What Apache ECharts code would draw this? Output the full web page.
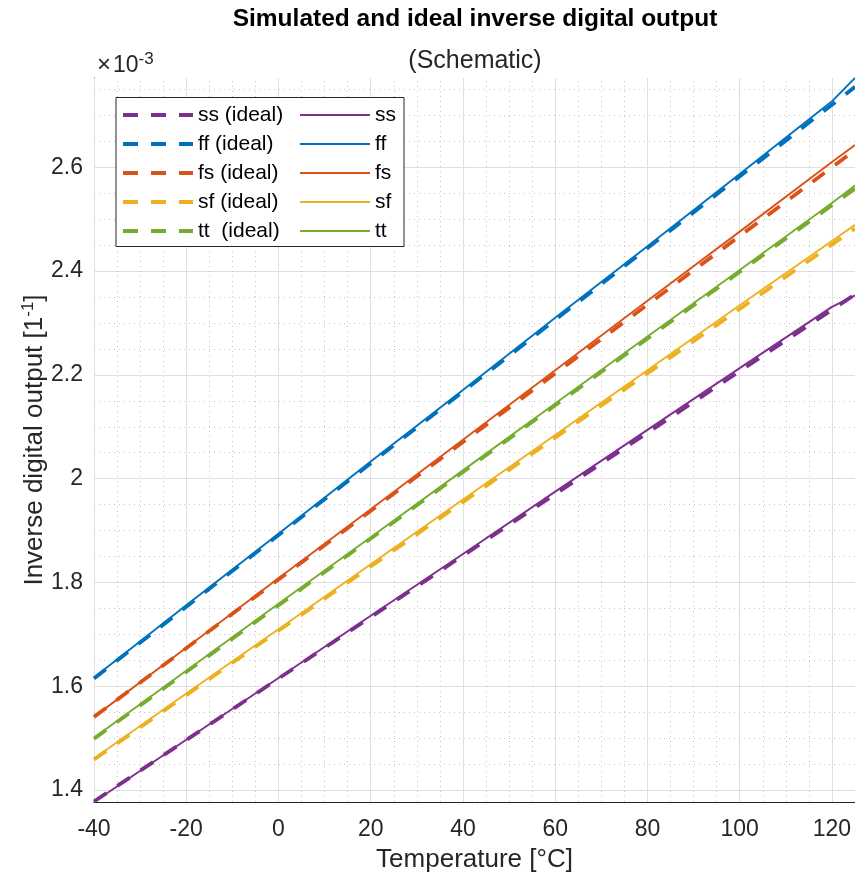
<!DOCTYPE html>
<html><head><meta charset="utf-8">
<script src="https://cdn.jsdelivr.net/npm/echarts@6/dist/echarts.min.js"></script>
<style>html,body{margin:0;padding:0;background:#fff}#c{width:855px;height:882px}</style>
</head><body><div id="c"></div>
<script>
// Temperatures (°C) at which the simulated outputs were read
const simTemps = [-40, -20, 0, 20, 40, 60, 80, 100, 120, 125];
// Ideal lines are straight: endpoints
const idealTemps = [-40, 125];

// Inverse digital output, in units of 1e-3
const ssSim = [1.377, 1.497, 1.616, 1.736, 1.855, 1.975, 2.094, 2.213, 2.331, 2.353];
const ffSim = [1.617, 1.756, 1.894, 2.033, 2.171, 2.310, 2.448, 2.587, 2.727, 2.772];
const fsSim = [1.541, 1.674, 1.808, 1.941, 2.075, 2.209, 2.343, 2.476, 2.610, 2.643];
const sfSim = [1.461, 1.586, 1.710, 1.835, 1.960, 2.084, 2.209, 2.334, 2.458, 2.489];
const ttSim = [1.501, 1.630, 1.759, 1.887, 2.016, 2.145, 2.274, 2.402, 2.531, 2.565];

const ssIdeal = [1.378, 2.355];
const ffIdeal = [1.615, 2.755];
const fsIdeal = [1.541, 2.633];
const sfIdeal = [1.459, 2.482];
const ttIdeal = [1.499, 2.559];

const cornerNames = ['ss', 'ff', 'fs', 'sf', 'tt'];
const idealNames = ['ss (ideal)', 'ff (ideal)', 'fs (ideal)', 'sf (ideal)', 'tt  (ideal)'];
const cornerColors = ['#7E2F8E', '#0072BD', '#D95319', '#EDB120', '#77AC30'];

const xTicks = [-40, -20, 0, 20, 40, 60, 80, 100, 120];
const yTicks = [1.4, 1.6, 1.8, 2, 2.2, 2.4, 2.6];
const xMinor = [-35, -30, -25, -15, -10, -5, 5, 10, 15, 25, 30, 35, 45, 50, 55, 65, 70, 75, 85, 90, 95, 105, 110, 115];
const yMinor = [1.45, 1.5, 1.55, 1.65, 1.7, 1.75, 1.85, 1.9, 1.95, 2.05, 2.1, 2.15, 2.25, 2.3, 2.35, 2.45, 2.5, 2.55, 2.65, 2.7, 2.75];

const X_MIN = -40, X_MAX = 125, Y_MIN = 1.377, Y_MAX = 2.772;

const FONT = "'Liberation Sans', Arial, Helvetica, sans-serif";
const AX = '#262626';

const simData = [ssSim, ffSim, fsSim, sfSim, ttSim];
const idealData = [ssIdeal, ffIdeal, fsIdeal, sfIdeal, ttIdeal];

const IDEAL_DASH = [15, 13];
const majorStyle = { color: '#e0e0e0', width: 1, type: 'solid' };
const minorStyle = { color: '#c4c4c4', width: 1, type: [1, 4] };

const gridLines = []
  .concat(xTicks.map(v => ({ xAxis: v, lineStyle: majorStyle })))
  .concat(yTicks.map(v => ({ yAxis: v, lineStyle: majorStyle })))
  .concat(xMinor.map(v => ({ xAxis: v, lineStyle: minorStyle })))
  .concat(yMinor.map(v => ({ yAxis: v, lineStyle: minorStyle })));

const series = [{
  type: 'line', name: '_grid', data: [], z: 1, silent: true,
  markLine: { silent: true, symbol: ['none', 'none'], label: { show: false }, animation: false, data: gridLines }
}];
idealNames.forEach((n, i) => {
  series.push({
    type: 'line', name: n, z: 10, symbol: 'none', animation: false,
    data: idealTemps.map((t, k) => [t, idealData[i][k]]),
    lineStyle: { color: cornerColors[i], width: 3.8, type: IDEAL_DASH },
    itemStyle: { color: cornerColors[i] }
  });
});
cornerNames.forEach((n, i) => {
  series.push({
    type: 'line', name: n, z: 11, symbol: 'none', animation: false,
    data: simTemps.map((t, k) => [t, simData[i][k]]),
    lineStyle: { color: cornerColors[i], width: 1.9, type: 'solid' },
    itemStyle: { color: cornerColors[i] }
  });
});

const legendData = [];
cornerNames.forEach((n, i) => {
  legendData.push({ name: idealNames[i], lineStyle: { width: 4, type: IDEAL_DASH }, itemStyle: { opacity: 0 } });
  legendData.push({ name: n, lineStyle: { width: 2 }, itemStyle: { opacity: 0 } });
});

const chart = echarts.init(document.getElementById('c'), null, { renderer: 'canvas' });
chart.setOption({
  animation: false,
  backgroundColor: '#fff',
  title: {
    text: 'Simulated and ideal inverse digital output',
    subtext: '(Schematic)',
    left: 475, textAlign: 'center', top: 7, itemGap: 17, padding: 0,
    textStyle: { fontFamily: FONT, fontSize: 24.5, fontWeight: 'bold', color: '#000', lineHeight: 25 },
    subtextStyle: { fontFamily: FONT, fontSize: 25, color: '#262626', lineHeight: 25 }
  },
  graphic: [{
    type: 'text', left: 97, top: 51, z: 30,
    style: {
      text: '{a|×}{b|10}{c|-3}',
      rich: {
        a: { fontFamily: FONT, fontSize: 24, fill: AX, padding: [0, 2, 0, 0] },
        b: { fontFamily: FONT, fontSize: 23, fill: AX },
        c: { fontFamily: FONT, fontSize: 17, fill: AX, padding: [0, 0, 12, 0] }
      }
    }
  }],
  grid: { left: 94, right: 0, top: 78, bottom: 80, containLabel: false },
  legend: {
    data: legendData,
    left: 116, top: 97.5, width: 280,
    orient: 'horizontal',
    padding: [6, 4, 4, 5],
    itemGap: 6,
    itemWidth: 70, itemHeight: 14,
    itemStyle: { opacity: 0 },
    backgroundColor: '#fff', borderColor: AX, borderWidth: 1, borderRadius: 0,
    z: 20,
    formatter: function (name) {
      return name.indexOf('ideal') >= 0 ? '{a|' + name + '}' : '{b|' + name + '}';
    },
    textStyle: {
      fontFamily: FONT, fontSize: 21, color: '#000',
      rich: {
        a: { fontFamily: FONT, fontSize: 21, color: '#000', width: 95, height: 23, lineHeight: 23 },
        b: { fontFamily: FONT, fontSize: 21, color: '#000', width: 25, height: 23, lineHeight: 23 }
      }
    },
    selectedMode: false
  },
  xAxis: {
    type: 'value', min: X_MIN, max: X_MAX,
    name: 'Temperature [°C]', nameLocation: 'middle', nameGap: 45, nameMoveOverlap: false,
    nameTextStyle: { fontFamily: FONT, fontSize: 26, color: AX },
    axisLine: { show: true, onZero: false, lineStyle: { color: AX, width: 1 } },
    axisTick: { show: true, inside: true, length: 8, customValues: xTicks, lineStyle: { color: AX, width: 1 } },
    axisLabel: { customValues: xTicks, margin: 16, fontFamily: FONT, fontSize: 23, color: AX },
    splitLine: { show: false }, minorSplitLine: { show: false }
  },
  yAxis: {
    type: 'value', min: Y_MIN, max: Y_MAX,
    name: '{t|Inverse digital output [1}{s|-1}{t|]}', nameLocation: 'middle', nameGap: 45, nameMoveOverlap: false,
    nameTextStyle: {
      fontFamily: FONT, fontSize: 26, color: AX,
      rich: {
        t: { fontFamily: FONT, fontSize: 26, color: AX },
        s: { fontFamily: FONT, fontSize: 17, color: AX, padding: [0, 0, 12, 0] }
      }
    },
    axisLine: { show: true, onZero: false, lineStyle: { color: AX, width: 1 } },
    axisTick: { show: true, inside: true, length: 8, customValues: yTicks, lineStyle: { color: AX, width: 1 } },
    axisLabel: { customValues: yTicks, margin: 11, fontFamily: FONT, fontSize: 23, color: AX },
    splitLine: { show: false }, minorSplitLine: { show: false }
  },
  series: series
});
</script>
</body></html>
